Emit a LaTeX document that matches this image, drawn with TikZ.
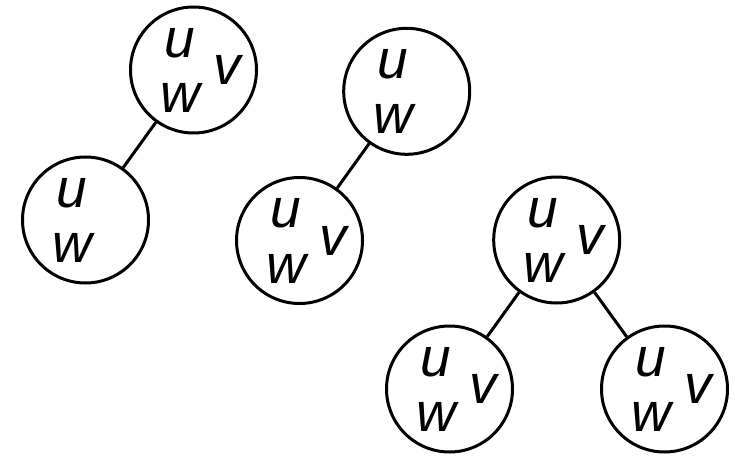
\documentclass[tikz,border=0pt]{standalone}
\usepackage{fontspec}
\newfontfamily\treefont{Liberation Sans}
\usetikzlibrary{positioning}

\tikzset{
    vertex/.style={circle,draw,line width=3pt,minimum size=126pt,inner sep=0pt},
    letter/.style={font=\fontsize{55}{55}\selectfont\treefont\itshape,inner sep=0pt},
    edge/.style={line width=3pt}
}

\begin{document}
\begin{tikzpicture}[x=1pt,y=-1pt]
    \useasboundingbox (0,0) rectangle (735,457);
    \foreach \name/\x/\y/\hasv in {a/193.5/70/1,b/85.5/220/0,c/406.7/91.3/0,d/299.5/240.5/1,e/556.7/240/1,f/449.5/389/1,g/664.5/389/1} {
        \node[vertex] (\name) at (\x,\y) {}; % 结点圆
        \node[letter,xshift=-14pt,yshift=27pt] (\name-u) at (\name) {u};
        \node[letter,xshift=-13.5pt,yshift=-28pt] (\name-w) at (\name) {w};
        \ifnum\hasv=1
            \node[letter,xshift=34pt] (\name-v) at (\name) {v};
        \fi
    }
    \foreach \from/\to in {a/b,c/d,e/f,e/g}
        \draw[edge] (\from) -- (\to); % 树边
\end{tikzpicture}
\end{document}
